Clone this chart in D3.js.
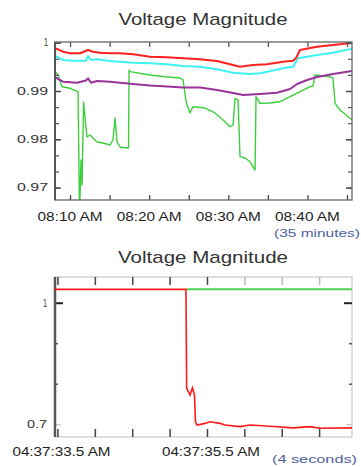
<!DOCTYPE html>
<html lang="en">
<head>
  <meta charset="UTF-8">
  <title>Voltage Magnitude</title>
  <style>
    body, html {
      margin: 0;
      padding: 0;
      background: #fff;
    }
    #svg {
      display: block;
    }
    text {
      font-family: "Liberation Sans", Arial, Helvetica, sans-serif;
    }
  </style>
</head>
<body>
  <svg id="svg" width="361" height="467"></svg>
  <script src="https://d3js.org/d3.v7.min.js"></script>
  <script>
    // ---- top chart data: minutes after 08:00 and per-unit voltage
    const redMin = [8.1, 8.48, 9.12, 10.0, 11.26, 12.27, 12.91, 13.79, 15.05, 16.32, 17.96, 20.11, 22.26, 24.28, 26.43, 28.57, 30.6, 31.48, 33.12, 34.89, 36.91, 38.18, 38.56, 39.06, 41.21, 43.23, 45.63]
    const redVal = [0.9988, 0.99863, 0.99814, 0.99781, 0.99781, 0.99849, 0.99814, 0.99793, 0.99781, 0.99781, 0.9976, 0.9971, 0.99698, 0.99677, 0.99656, 0.99621, 0.99538, 0.99503, 0.99538, 0.99553, 0.99607, 0.99627, 0.99683, 0.99849, 0.99917, 0.99952, 0.99995]

    const cyanMin = [8.1, 8.48, 9.12, 10.38, 12.02, 12.27, 12.65, 13.41, 15.05, 17.96, 20.11, 22.26, 24.28, 26.43, 28.57, 30.6, 32.74, 34.0, 34.89, 36.91, 38.18, 38.81, 41.21, 43.23, 45.63]
    const cyanVal = [0.9972, 0.99698, 0.99642, 0.99627, 0.99627, 0.99725, 0.99642, 0.99656, 0.99621, 0.99586, 0.99574, 0.99553, 0.99518, 0.99503, 0.99449, 0.99379, 0.99352, 0.99366, 0.994, 0.9947, 0.99503, 0.99677, 0.99745, 0.99793, 0.99875]

    const purpleMin = [8.1, 8.36, 9.12, 10.88, 12.02, 12.27, 12.65, 13.41, 15.05, 17.96, 20.11, 22.26, 24.28, 26.43, 28.57, 30.6, 31.86, 34.0, 36.16, 37.8, 38.68, 39.95, 41.21, 43.23, 45.63]
    const purpleVal = [0.9928, 0.99263, 0.99193, 0.99172, 0.99217, 0.99263, 0.99172, 0.99207, 0.99193, 0.99145, 0.99114, 0.99093, 0.99072, 0.99072, 0.99021, 0.98959, 0.98917, 0.98938, 0.98965, 0.99041, 0.99145, 0.99228, 0.9929, 0.99352, 0.99415]

    const greenMin = [8.1, 8.48, 8.99, 10.0, 11.01, 11.2, 11.39, 11.52, 11.71, 11.9, 12.15, 12.53, 12.91, 13.41, 14.17, 15.05, 15.43, 15.69, 15.94, 16.32, 17.2, 17.39, 17.46, 17.58, 20.11, 22.0, 23.9, 24.28, 24.66, 25.16, 25.54, 27.06, 28.32, 29.59, 30.22, 30.6, 30.85, 31.23, 31.48, 32.11, 32.74, 33.38, 33.5, 34.0, 35.27, 36.53, 37.8, 39.06, 40.33, 40.71, 40.96, 42.85, 43.23, 43.49, 44.12, 45.38, 45.63]
    const greenVal = [0.994, 0.99331, 0.99089, 0.99056, 0.98986, 0.9645, 0.97571, 0.97054, 0.98772, 0.98441, 0.98048, 0.98089, 0.98027, 0.97944, 0.97923, 0.97882, 0.97986, 0.98441, 0.97944, 0.97841, 0.9782, 0.9782, 0.99435, 0.994, 0.99331, 0.99296, 0.99269, 0.99228, 0.98778, 0.98545, 0.98675, 0.98648, 0.98545, 0.98364, 0.98261, 0.98296, 0.98849, 0.98814, 0.9764, 0.97613, 0.97536, 0.97364, 0.98882, 0.98745, 0.98752, 0.98778, 0.98882, 0.98986, 0.99089, 0.99104, 0.99331, 0.99296, 0.99269, 0.98745, 0.98607, 0.98435, 0.98405]

    const topYTicks = [1, 0.99, 0.98, 0.97]
    const topYLabels = ['1', '0.99', '0.98', '0.97']
    const topXLabelMin = [10, 20, 30, 40]
    const topXLabels = ['08:10 AM', '08:20 AM', '08:30 AM', '08:40 AM']

    // ---- bottom chart data: seconds after 04:37:00
    const lowRedSec = [33.467, 35.219, 35.228, 35.273, 35.306, 35.333, 35.346, 35.366, 35.473, 35.54, 35.674, 35.741, 35.942, 36.075, 36.343, 36.65, 36.878, 37.011, 37.44]
    const lowRedVal = [1.033, 1.033, 0.789, 0.772, 0.79, 0.772, 0.706, 0.698, 0.702, 0.706, 0.702, 0.698, 0.694, 0.698, 0.695, 0.691, 0.694, 0.69, 0.691]
    const lowGreenSec = [35.228, 37.44]
    const lowGreenVal = [1.033, 1.033]

    const lowYTicks = [1, 0.7]
    const lowYLabels = ['1', '0.7']
    const lowXLabelSec = [33.5, 35.5]
    const lowXLabels = ['04:37:33.5 AM', '04:37:35.5 AM']

    const svg = d3.select('#svg')

    const base1 = new Date(2000, 0, 1, 8, 0, 0).getTime()
    const base2 = new Date(2000, 0, 1, 4, 37, 0).getTime()
    const atMin = m => new Date(base1 + m * 60000)
    const atSec = s => new Date(base2 + s * 1000)

    // text with a fixed drawn width (the picture is a bit stretched)
    function label(x, y, str, size, len, anchor, color) {
      svg.append('text')
        .attr('x', x).attr('y', y)
        .attr('font-size', size)
        .attr('text-anchor', anchor)
        .attr('textLength', len)
        .attr('lengthAdjust', 'spacingAndGlyphs')
        .attr('fill', color)
        .text(str)
    }

    function styleTicks(g, color, width) {
      g.select('.domain').remove()
      g.selectAll('line').attr('stroke', color).attr('stroke-width', width)
    }

    // ================= top chart =================
    const t = { left: 55, right: 352, top: 42, bottom: 200 }
    const x1 = d3.scaleTime().domain([atMin(8.1), atMin(45.63)]).range([t.left, t.right])
    const y1 = d3.scaleLinear().domain([0.967433, 1.000145]).range([t.bottom, t.top])

    label(203, 25, 'Voltage Magnitude', 17, 169, 'middle', '#333')

    svg.append('clipPath').attr('id', 'clipTop')
      .append('rect').attr('x', t.left).attr('y', t.top)
      .attr('width', t.right - t.left).attr('height', t.bottom - t.top)

    const line1 = (ms, vs) => d3.line()
      .x((d, i) => x1(atMin(ms[i])))
      .y(d => y1(d))(vs)

    const topSeries = [
      { m: greenMin, v: greenVal, color: '#3ccf3c', w: 1.4 },
      { m: purpleMin, v: purpleVal, color: '#993399', w: 2 },
      { m: cyanMin, v: cyanVal, color: '#3ff2f2', w: 2 },
      { m: redMin, v: redVal, color: '#ff2020', w: 2 }
    ]
    svg.append('g').attr('clip-path', 'url(#clipTop)')
      .selectAll('path')
      .data(topSeries)
      .join('path')
      .attr('d', d => line1(d.m, d.v))
      .attr('fill', 'none')
      .attr('stroke', d => d.color)
      .attr('stroke-width', d => d.w)
      .attr('stroke-linejoin', 'round')

    const min5 = d3.timeMinute.every(5).range(atMin(8.1), atMin(45.63))
    svg.append('g').attr('transform', `translate(0,${t.bottom})`)
      .call(d3.axisBottom(x1).tickValues(min5).tickSize(-5).tickFormat(''))
      .call(g => styleTicks(g, '#444', 1.3))
    svg.append('g').attr('transform', `translate(0,${t.top})`)
      .call(d3.axisTop(x1).tickValues(min5).tickSize(-5).tickFormat(''))
      .call(g => styleTicks(g, '#555', 1.3))

    const minorTop = d3.range(0, 10).map(i => 1 - i / 300).filter(v => v > 0.9675)
    ;[[d3.axisLeft, t.left], [d3.axisRight, t.right]].forEach(([ax, pos]) => {
      svg.append('g').attr('transform', `translate(${pos},0)`)
        .call(ax(y1).tickValues(minorTop).tickSize(-4).tickFormat(''))
        .call(g => styleTicks(g, '#555', 1.2))
      svg.append('g').attr('transform', `translate(${pos},0)`)
        .call(ax(y1).tickValues(topYTicks).tickSize(-6).tickFormat(''))
        .call(g => styleTicks(g, '#444', 1.4))
    })

    // frame
    svg.append('rect')
      .attr('x', t.left).attr('y', t.top)
      .attr('width', t.right - t.left).attr('height', t.bottom - t.top)
      .attr('fill', 'none').attr('stroke', '#666').attr('stroke-width', 1.3)
    svg.append('line')
      .attr('x1', t.left).attr('x2', t.left).attr('y1', t.top).attr('y2', t.bottom)
      .attr('stroke', '#555').attr('stroke-width', 2)

    topYLabels.forEach((s, i) => {
      label(48, y1(topYTicks[i]) + 3.5, s, 10, s.length === 1 ? 4 : 31, 'end', '#333')
    })
    topXLabels.forEach((s, i) => {
      label(x1(atMin(topXLabelMin[i])), 221, s, 12, 65, 'middle', '#222')
    })
    label(360, 237, '(35 minutes)', 11.5, 86, 'end', '#4f5f9f')

    // ================= bottom chart =================
    const b = { left: 55, right: 352, top: 277, bottom: 437 }
    const x2 = d3.scaleTime().domain([atSec(33.467), atSec(37.44)]).range([b.left, b.right])
    const y2 = d3.scaleLinear().domain([0.6684, 1.0635]).range([b.bottom, b.top])

    label(203, 263, 'Voltage Magnitude', 17, 170, 'middle', '#333')

    // frame, light on three sides
    svg.append('rect')
      .attr('x', b.left).attr('y', b.top)
      .attr('width', b.right - b.left).attr('height', b.bottom - b.top)
      .attr('fill', 'none').attr('stroke', '#d4d4d4').attr('stroke-width', 1.5)

    const halfSec = d3.timeMillisecond.every(500).range(atSec(33.467), atSec(37.44))
    svg.append('g').attr('transform', `translate(0,${b.bottom})`)
      .call(d3.axisBottom(x2).tickValues(halfSec).tickSize(-8).tickFormat(''))
      .call(g => styleTicks(g, '#444', 1.5))
    svg.append('g').attr('transform', `translate(0,${b.top})`)
      .call(d3.axisTop(x2).tickValues(halfSec).tickSize(-8).tickFormat(''))
      .call(g => styleTicks(g, '#444', 1.5))
    // fade the later top/bottom ticks like the picture
    svg.selectAll('g.tick').filter(function () {
      const tr = d3.select(this).attr('transform')
      return tr && +tr.match(/translate\(([\d.]+)/)[1] > 220 && this.parentNode.getAttribute('transform').includes(`${b.top}`)
    }).selectAll('line').attr('stroke', '#bbb')

    ;[[d3.axisLeft, b.left], [d3.axisRight, b.right]].forEach(([ax, pos]) => {
      svg.append('g').attr('transform', `translate(${pos},0)`)
        .call(ax(y2).tickValues([0.9, 0.8]).tickSize(-3).tickFormat(''))
        .call(g => styleTicks(g, '#555', 1.5))
      svg.append('g').attr('transform', `translate(${pos},0)`)
        .call(ax(y2).tickValues([1]).tickSize(-8).tickFormat(''))
        .call(g => styleTicks(g, '#222', 2))
      svg.append('g').attr('transform', `translate(${pos},0)`)
        .call(ax(y2).tickValues([0.7]).tickSize(-6).tickFormat(''))
        .call(g => styleTicks(g, '#ccc', 1.5))
    })

    svg.append('line')
      .attr('x1', b.left).attr('x2', b.left).attr('y1', b.top).attr('y2', b.bottom)
      .attr('stroke', '#555').attr('stroke-width', 2.5)

    svg.append('clipPath').attr('id', 'clipLow')
      .append('rect').attr('x', b.left).attr('y', b.top)
      .attr('width', b.right - b.left).attr('height', b.bottom - b.top)

    const line2 = (ss, vs) => d3.line()
      .x((d, i) => x2(atSec(ss[i])))
      .y(d => y2(d))(vs)

    const low = svg.append('g').attr('clip-path', 'url(#clipLow)')
    low.append('path')
      .attr('d', line2(lowGreenSec, lowGreenVal))
      .attr('fill', 'none').attr('stroke', '#4fd04f').attr('stroke-width', 2)
    low.append('path')
      .attr('d', line2(lowRedSec, lowRedVal))
      .attr('fill', 'none').attr('stroke', '#ff1a1a').attr('stroke-width', 1.6)

    lowYLabels.forEach((s, i) => {
      label(47, y2(lowYTicks[i]) + 4, s, 11, s.length === 1 ? 4 : 20, 'end', '#333')
    })
    lowXLabels.forEach((s, i) => {
      label(x2(atSec(lowXLabelSec[i])) + 4, 456, s, 12, 98, 'middle', '#222')
    })
    label(357, 463, '(4 seconds)', 11.5, 85, 'end', '#4f5f9f')
  </script>
</body>
</html>
